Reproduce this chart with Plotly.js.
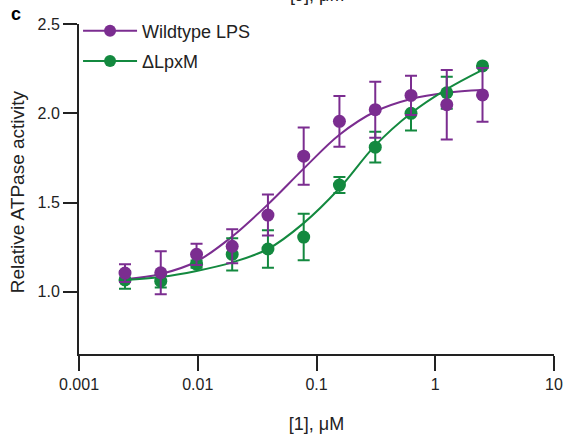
<!DOCTYPE html>
<html>
<head>
<meta charset="utf-8">
<script src="https://cdn.plot.ly/plotly-3.0.1.min.js"></script>
<style>html,body{margin:0;padding:0;background:#fff;}#chart{width:566px;height:434px;}</style>
</head>
<body>
<div id="chart"></div>
<script>
const conc = [0.00244, 0.00488, 0.00977, 0.0195, 0.039, 0.078, 0.156, 0.3125, 0.625, 1.25, 2.5];
const wtMean = [1.105, 1.107, 1.21, 1.255, 1.43, 1.76, 1.955, 2.02, 2.10, 2.048, 2.103];
const wtErr  = [0.05, 0.12, 0.06, 0.095, 0.115, 0.16, 0.142, 0.157, 0.11, 0.195, 0.15];
const lpxMean = [1.067, 1.06, 1.155, 1.21, 1.24, 1.307, 1.598, 1.81, 2.0, 2.115, 2.265];
const lpxErr  = [0.05, 0.035, 0.02, 0.09, 0.105, 0.13, 0.045, 0.086, 0.096, 0.09, 0];
const wtFit  = [1.07, 1.10, 1.17, 1.31, 1.49, 1.69, 1.88, 2.01, 2.08, 2.115, 2.13];
const lpxFit = [1.067, 1.083, 1.117, 1.165, 1.24, 1.385, 1.58, 1.82, 2.0, 2.135, 2.243];
const xTicks = [0.001, 0.01, 0.1, 1, 10];
const xTickText = ['0.001', '0.01', '0.1', '1', '10'];
const yTicks = [1.0, 1.5, 2.0, 2.5];
const yTickText = ['1.0', '1.5', '2.0', '2.5'];
const seriesNames = ['Wildtype LPS', '\u0394LpxM'];

const purple = '#7b2d90';
const green = '#13893f';
const font = 'Liberation Sans, Arial, sans-serif';

const traces = [
  {x: conc, y: wtFit, mode: 'lines', line: {color: purple, width: 2, shape: 'spline'}, showlegend: false, hoverinfo: 'skip'},
  {x: conc, y: lpxFit, mode: 'lines', line: {color: green, width: 2, shape: 'spline'}, showlegend: false, hoverinfo: 'skip'},
  {x: conc, y: lpxMean, mode: 'markers', name: seriesNames[1],
   marker: {color: green, size: 13},
   error_y: {type: 'data', array: lpxErr, visible: true, color: green, thickness: 2, width: 6},
   showlegend: false},
  {x: conc, y: wtMean, mode: 'markers', name: seriesNames[0],
   marker: {color: purple, size: 13},
   error_y: {type: 'data', array: wtErr, visible: true, color: purple, thickness: 2, width: 6},
   showlegend: false},
  {x: [null], y: [null], mode: 'lines+markers', name: seriesNames[0], legendgroup: 'a',
   line: {color: purple, width: 2}, marker: {color: purple, size: 12}},
  {x: [null], y: [null], mode: 'lines+markers', name: seriesNames[1], legendgroup: 'b',
   line: {color: green, width: 2}, marker: {color: green, size: 12}}
];

const layout = {
  width: 566, height: 434,
  margin: {l: 79, r: 12, t: 22, b: 80},
  paper_bgcolor: '#fff', plot_bgcolor: '#fff',
  font: {family: font, size: 16, color: '#222'},
  showlegend: true,
  legend: {x: -0.002, y: 1.035, xanchor: 'left', yanchor: 'top', bgcolor: 'rgba(0,0,0,0)',
           font: {size: 18, color: '#222'}, tracegroupgap: 4, traceorder: 'grouped', itemwidth: 54},
  xaxis: {
    type: 'log', range: [-3, 1],
    tickvals: xTicks, ticktext: xTickText,
    ticks: 'outside', ticklen: 15, tickwidth: 2, tickcolor: '#222',
    showline: true, linewidth: 2, linecolor: '#222',
    showgrid: false, zeroline: false,
    tickfont: {size: 16, color: '#222'},
    title: {text: '[1], \u03bcM', font: {size: 18, color: '#222'}, standoff: 26}
  },
  yaxis: {
    range: [0.652, 2.5],
    tickvals: yTicks, ticktext: yTickText,
    ticks: 'outside', ticklen: 14, tickwidth: 2, tickcolor: '#222',
    showline: true, linewidth: 2, linecolor: '#222',
    showgrid: false, zeroline: false,
    tickfont: {size: 16, color: '#222'}
  },
  annotations: [
    {text: 'Relative ATPase activity', xref: 'paper', yref: 'paper', x: -0.1305, y: 0.49,
     xanchor: 'center', yanchor: 'middle', textangle: -90, showarrow: false,
     font: {size: 19, color: '#222'}},
    {text: '<b>c</b>', xref: 'paper', yref: 'paper', x: -0.148, y: 1.03, xanchor: 'left', yanchor: 'middle',
     showarrow: false, font: {size: 18, color: '#000'}},
    {text: '[J], \u03bcM', xref: 'paper', yref: 'paper', x: 0.5, y: 1.052, xanchor: 'center', yanchor: 'bottom',
     showarrow: false, font: {size: 18, color: '#222'}}
  ]
};

Plotly.newPlot('chart', traces, layout, {displayModeBar: false, staticPlot: true});
</script>
</body>
</html>
